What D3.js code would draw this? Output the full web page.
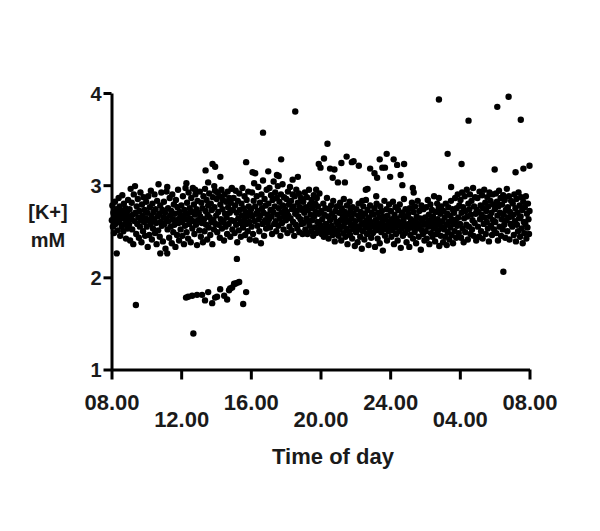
<!DOCTYPE html>
<html><head><meta charset="utf-8">
<script src="https://cdn.jsdelivr.net/npm/d3@7"></script>
<style>body{margin:0;background:#fff}</style>
</head><body>
<script>
// hours after 08.00, [K+] in mM
const tickHours = [0,4,8,12,16,20,24];
const tickLabels = ["08.00","12.00","16.00","20.00","24.00","04.00","08.00"];
const yTicks = [1,2,3,4];

const morning = [ // 08-12
[0.02,2.62],[0.05,2.78],[0.08,2.55],[0.11,2.70],[0.14,2.48],[0.17,2.66],[0.20,2.82],[0.23,2.58],[0.27,2.74],[0.31,2.63],[0.35,2.51],[0.38,2.69],[0.41,2.86],[0.44,2.60],[0.47,2.77],[0.50,2.45],[0.53,2.67],[0.56,2.72],[0.59,2.55],[0.62,2.89],[0.65,2.64],[0.68,2.50],[0.71,2.80],[0.74,2.68],[0.77,2.58],[0.80,2.75],[0.83,2.42],[0.86,2.62],[0.89,2.71],[0.92,2.53],[0.95,2.84],[0.98,2.66],
[1.01,2.57],[1.04,2.74],[1.07,2.40],[1.10,2.96],[1.13,2.63],[1.16,2.81],[1.19,2.52],[1.22,2.68],[1.25,2.36],[1.28,2.90],[1.31,2.61],[1.38,2.70],[1.42,2.47],[1.45,2.77],[1.48,2.58],[1.51,2.85],[1.54,2.65],[1.57,2.43],[1.60,2.72],[1.63,2.55],[1.66,2.92],[1.69,2.62],[1.72,2.38],[1.75,2.79],[1.78,2.67],[1.81,2.50],[1.84,2.87],[1.87,2.60],[1.90,2.73],[1.93,2.45],[1.96,2.64],[1.99,2.82],
[2.02,2.55],[2.05,2.70],[2.08,2.33],[2.11,2.88],[2.14,2.62],[2.17,2.46],[2.20,2.76],[2.23,2.58],[2.26,2.94],[2.29,2.67],[2.32,2.41],[2.35,2.80],[2.38,2.53],[2.41,2.71],[2.44,2.63],[2.47,2.90],[2.50,2.48],[2.53,2.74],[2.56,2.59],[2.59,2.36],[2.62,2.83],[2.65,2.66],[2.68,2.51],[2.74,2.69],[2.77,2.44],[2.80,2.78],[2.83,2.60],[2.86,2.92],[2.89,2.56],[2.92,2.73],[2.95,2.39],[2.98,2.65],
[3.01,2.82],[3.04,2.58],[3.07,2.70],[3.10,2.31],[3.13,2.64],[3.16,2.93],[3.22,2.52],[3.25,2.75],[3.28,2.61],[3.31,2.43],[3.34,2.86],[3.37,2.67],[3.40,2.55],[3.43,2.72],[3.46,2.37],[3.49,2.90],[3.52,2.63],[3.55,2.49],[3.58,2.79],[3.61,2.57],[3.64,2.69],[3.67,2.33],[3.70,2.84],[3.73,2.62],[3.76,2.46],[3.79,2.76],[3.82,2.95],[3.85,2.59],[3.88,2.40],[3.91,2.71],[3.94,2.65],[3.97,2.52]
];
const afternoon = [ // 12-16
[4.01,2.78],[4.04,2.60],[4.07,2.45],[4.10,2.88],[4.13,2.67],[4.16,2.36],[4.19,2.73],[4.22,2.56],[4.25,2.97],[4.28,2.63],[4.31,2.49],[4.34,2.81],[4.37,2.69],[4.40,2.42],[4.43,2.92],[4.46,2.58],[4.49,2.75],[4.52,2.64],[4.55,2.38],[4.58,2.86],[4.61,2.71],[4.64,2.53],[4.67,2.97],[4.70,2.61],[4.73,2.79],[4.76,2.47],[4.79,2.68],[4.82,2.90],[4.85,2.57],[4.88,2.74],[4.91,2.35],[4.94,2.83],[4.97,2.62],
[5.01,2.70],[5.04,2.51],[5.07,2.93],[5.10,2.66],[5.13,2.44],[5.16,2.81],[5.19,2.59],[5.22,2.75],[5.25,2.38],[5.28,2.88],[5.31,2.63],[5.34,2.50],[5.37,2.96],[5.40,2.72],[5.43,2.57],[5.46,2.84],[5.49,2.41],[5.52,2.68],[5.55,2.78],[5.58,2.54],[5.61,2.91],[5.64,2.65],[5.67,2.46],[5.70,2.80],[5.73,2.60],[5.76,2.73],[5.79,2.36],[5.82,2.87],[5.85,2.62],[5.88,2.52],[5.91,2.76],[5.94,2.94],[5.97,2.58],
[6.01,2.67],[6.04,2.85],[6.07,2.49],[6.10,2.92],[6.13,2.71],[6.16,2.57],[6.19,2.88],[6.22,2.43],[6.25,2.79],[6.28,2.63],[6.31,2.95],[6.34,2.53],[6.37,2.74],[6.40,2.84],[6.43,2.60],[6.46,2.40],[6.49,2.90],[6.52,2.69],[6.55,2.55],[6.58,2.82],[6.61,2.65],[6.64,2.47],[6.67,2.93],[6.70,2.76],[6.73,2.58],[6.76,2.86],[6.79,2.70],[6.82,2.44],[6.85,2.81],[6.88,2.62],[6.91,2.97],[6.94,2.52],[6.97,2.73],
[7.01,2.86],[7.04,2.61],[7.07,2.48],[7.10,2.78],[7.13,2.94],[7.16,2.57],[7.19,2.70],[7.22,2.38],[7.25,2.83],[7.28,2.64],[7.31,2.51],[7.34,2.91],[7.37,2.73],[7.40,2.59],[7.43,2.44],[7.46,2.80],[7.49,2.67],[7.52,2.97],[7.55,2.54],[7.58,2.75],[7.61,2.62],[7.64,2.88],[7.67,2.46],[7.70,2.71],[7.73,2.58],[7.76,2.84],[7.79,2.66],[7.82,2.50],[7.85,2.93],[7.88,2.77],[7.91,2.60],[7.94,2.41],[7.97,2.69]
];
const evening = [ // 16-20
[8.01,2.74],[8.04,2.55],[8.07,2.92],[8.10,2.66],[8.13,2.47],[8.16,2.83],[8.19,3.02],[8.22,2.61],[8.25,2.77],[8.28,2.40],[8.31,2.69],[8.34,2.88],[8.37,2.56],[8.40,2.72],[8.43,2.98],[8.46,2.63],[8.49,2.50],[8.52,2.81],[8.55,2.67],[8.58,2.37],[8.61,2.90],[8.64,2.75],[8.67,2.58],[8.70,3.05],[8.73,2.70],[8.76,2.45],[8.79,2.85],[8.82,2.62],[8.85,2.78],[8.88,2.53],[8.91,2.95],[8.94,2.68],[8.97,2.59],
[9.01,2.80],[9.04,2.63],[9.07,2.97],[9.10,2.54],[9.13,2.73],[9.16,2.89],[9.19,2.66],[9.22,2.47],[9.25,2.84],[9.28,2.71],[9.31,3.04],[9.34,2.58],[9.37,2.77],[9.40,2.92],[9.43,2.61],[9.46,2.50],[9.49,2.86],[9.52,2.68],[9.55,2.99],[9.58,2.56],[9.61,2.75],[9.64,2.82],[9.67,2.64],[9.70,2.45],[9.73,2.90],[9.76,2.70],[9.79,2.59],[9.82,3.01],[9.85,2.78],[9.88,2.52],[9.91,2.87],[9.94,2.66],[9.97,2.74],
[10.01,2.62],[10.04,2.85],[10.07,2.71],[10.10,2.48],[10.13,2.93],[10.16,2.67],[10.19,2.79],[10.22,2.55],[10.25,2.98],[10.28,2.64],[10.31,2.83],[10.34,2.51],[10.37,2.74],[10.40,2.90],[10.43,2.60],[10.46,2.77],[10.49,2.45],[10.52,2.88],[10.55,2.69],[10.58,2.57],[10.61,2.95],[10.64,2.72],[10.67,2.53],[10.70,2.81],[10.73,2.66],[10.76,2.91],[10.79,2.49],[10.82,2.76],[10.85,2.63],[10.88,2.86],[10.91,2.58],[10.94,2.73],[10.97,2.47],
[11.01,2.82],[11.04,2.59],[11.07,2.70],[11.10,2.92],[11.13,2.52],[11.16,2.76],[11.19,2.64],[11.22,2.87],[11.25,2.47],[11.28,2.73],[11.31,2.61],[11.34,2.95],[11.37,2.56],[11.40,2.79],[11.43,2.68],[11.46,2.50],[11.49,2.84],[11.52,2.62],[11.55,2.75],[11.58,2.45],[11.61,2.89],[11.64,2.66],[11.67,2.54],[11.70,2.80],[11.73,2.71],[11.76,2.48],[11.79,2.86],[11.82,2.60],[11.85,2.77],[11.88,2.52],[11.91,2.69],[11.94,2.91],[11.97,2.57]
];
const lateNight = [ // 20-24
[12.01,2.50],[12.04,2.72],[12.07,2.47],[12.10,2.63],[12.13,2.53],[12.16,2.80],[12.19,2.44],[12.22,2.68],[12.25,2.51],[12.28,2.75],[12.31,2.58],[12.34,2.48],[12.37,2.86],[12.40,2.55],[12.43,2.66],[12.46,2.42],[12.49,2.74],[12.52,2.52],[12.55,2.62],[12.58,2.49],[12.61,2.78],[12.64,2.56],[12.67,2.69],[12.70,2.46],[12.73,2.83],[12.76,2.53],[12.79,2.65],[12.82,2.39],[12.85,2.72],[12.88,2.50],[12.91,2.60],[12.94,2.77],[12.97,2.47],
[13.01,2.57],[13.04,2.45],[13.07,2.70],[13.10,2.52],[13.13,2.81],[13.16,2.62],[13.19,2.40],[13.22,2.75],[13.25,2.55],[13.28,2.66],[13.31,2.48],[13.34,2.85],[13.37,2.59],[13.40,2.71],[13.43,2.44],[13.46,2.63],[13.49,2.53],[13.52,2.78],[13.55,2.36],[13.58,2.68],[13.61,2.50],[13.64,2.60],[13.67,2.82],[13.70,2.46],[13.73,2.73],[13.76,2.56],[13.79,2.64],[13.82,2.42],[13.85,2.76],[13.88,2.52],[13.91,2.69],[13.94,2.58],[13.97,2.34],
[14.01,2.61],[14.04,2.49],[14.07,2.74],[14.10,2.55],[14.13,2.38],[14.16,2.67],[14.19,2.80],[14.22,2.52],[14.25,2.63],[14.28,2.44],[14.31,2.71],[14.34,2.57],[14.37,2.31],[14.40,2.66],[14.43,2.50],[14.46,2.77],[14.49,2.59],[14.52,2.41],[14.55,2.69],[14.58,2.54],[14.61,2.84],[14.64,2.62],[14.67,2.47],[14.70,2.73],[14.73,2.56],[14.76,2.35],[14.79,2.65],[14.82,2.51],[14.85,2.78],[14.88,2.60],[14.91,2.43],[14.94,2.70],[14.97,2.55],
[15.01,2.48],[15.04,2.68],[15.07,2.56],[15.10,2.75],[15.13,2.33],[15.16,2.62],[15.19,2.51],[15.22,2.80],[15.25,2.59],[15.28,2.42],[15.31,2.70],[15.34,2.54],[15.37,2.65],[15.40,2.37],[15.43,2.77],[15.46,2.57],[15.49,2.49],[15.52,2.72],[15.55,2.60],[15.58,2.29],[15.61,2.66],[15.64,2.52],[15.67,2.83],[15.70,2.45],[15.73,2.63],[15.76,2.55],[15.79,2.74],[15.82,2.40],[15.85,2.67],[15.88,2.58],[15.91,2.50],[15.94,2.79],[15.97,2.61]
];
const smallHours = [ // 00-04
[16.01,2.55],[16.04,2.72],[16.07,2.44],[16.10,2.63],[16.13,2.51],[16.16,2.82],[16.19,2.59],[16.22,2.36],[16.25,2.68],[16.28,2.54],[16.31,2.76],[16.34,2.47],[16.37,2.64],[16.40,2.57],[16.43,2.40],[16.46,2.73],[16.49,2.60],[16.52,2.50],[16.55,2.79],[16.58,2.56],[16.61,2.32],[16.64,2.67],[16.67,2.53],[16.70,2.70],[16.73,2.45],[16.76,2.62],[16.79,2.85],[16.82,2.58],[16.85,2.48],[16.88,2.74],[16.91,2.55],[16.94,2.38],[16.97,2.66],
[17.01,2.52],[17.04,2.69],[17.07,2.58],[17.10,2.33],[17.13,2.75],[17.16,2.46],[17.19,2.63],[17.22,2.54],[17.25,2.81],[17.28,2.60],[17.31,2.42],[17.34,2.71],[17.37,2.56],[17.40,2.49],[17.43,2.77],[17.46,2.61],[17.49,2.37],[17.52,2.66],[17.55,2.53],[17.58,2.83],[17.61,2.58],[17.64,2.44],[17.67,2.72],[17.70,2.55],[17.73,2.64],[17.76,2.30],[17.79,2.78],[17.82,2.51],[17.85,2.62],[17.88,2.47],[17.91,2.74],[17.94,2.57],[17.97,2.40],
[18.01,2.65],[18.04,2.50],[18.07,2.76],[18.10,2.42],[18.13,2.59],[18.16,2.84],[18.19,2.55],[18.22,2.68],[18.25,2.36],[18.28,2.62],[18.31,2.79],[18.34,2.48],[18.37,2.57],[18.40,2.73],[18.43,2.44],[18.46,2.66],[18.49,2.53],[18.52,2.88],[18.55,2.60],[18.58,2.39],[18.61,2.71],[18.64,2.56],[18.67,2.47],[18.70,2.80],[18.73,2.63],[18.76,2.51],[18.79,2.75],[18.82,2.34],[18.85,2.58],[18.88,2.69],[18.91,2.45],[18.94,2.77],[18.97,2.54],
[19.01,2.61],[19.04,2.38],[19.07,2.72],[19.10,2.52],[19.13,2.65],[19.16,2.44],[19.19,2.80],[19.22,2.57],[19.25,2.35],[19.28,2.69],[19.31,2.49],[19.34,2.76],[19.37,2.60],[19.40,2.41],[19.43,2.67],[19.46,2.54],[19.49,2.83],[19.52,2.46],[19.55,2.63],[19.58,2.74],[19.61,2.37],[19.64,2.58],[19.67,2.70],[19.70,2.50],[19.73,2.86],[19.76,2.62],[19.79,2.43],[19.82,2.75],[19.85,2.56],[19.88,2.90],[19.91,2.65],[19.94,2.48],[19.97,2.78]
];
const earlyMorning = [ // 04-08
[20.01,2.58],[20.04,2.84],[20.07,2.43],[20.10,2.70],[20.13,2.92],[20.16,2.53],[20.19,2.76],[20.22,2.38],[20.25,2.64],[20.28,2.88],[20.31,2.49],[20.34,2.72],[20.37,2.57],[20.40,2.95],[20.43,2.66],[20.46,2.41],[20.49,2.80],[20.52,2.55],[20.55,2.74],[20.58,2.90],[20.61,2.47],[20.64,2.68],[20.67,2.83],[20.70,2.52],[20.73,2.62],[20.76,2.97],[20.79,2.45],[20.82,2.77],[20.85,2.59],[20.88,2.87],[20.91,2.69],[20.94,2.40],[20.97,2.73],
[21.01,2.86],[21.04,2.55],[21.07,2.71],[21.10,2.44],[21.13,2.93],[21.16,2.63],[21.19,2.78],[21.22,2.50],[21.25,2.68],[21.28,2.89],[21.31,2.42],[21.34,2.75],[21.37,2.58],[21.40,2.95],[21.43,2.65],[21.46,2.81],[21.49,2.47],[21.52,2.72],[21.55,2.60],[21.58,2.87],[21.61,2.53],[21.64,2.77],[21.67,2.39],[21.70,2.92],[21.73,2.66],[21.76,2.83],[21.79,2.56],[21.82,2.70],[21.85,2.46],[21.88,2.90],[21.91,2.62],[21.94,2.79],[21.97,2.52],
[22.01,2.74],[22.04,2.60],[22.07,2.91],[22.10,2.48],[22.13,2.82],[22.16,2.67],[22.19,2.40],[22.22,2.77],[22.25,2.94],[22.28,2.55],[22.31,2.70],[22.34,2.86],[22.37,2.45],[22.40,2.63],[22.43,2.79],[22.46,2.52],[22.49,2.89],[22.52,2.68],[22.55,2.57],[22.58,2.84],[22.61,2.43],[22.64,2.73],[22.67,2.62],[22.70,2.96],[22.73,2.50],[22.76,2.76],[22.79,2.65],[22.82,2.88],[22.85,2.41],[22.88,2.71],[22.91,2.58],[22.94,2.83],[22.97,2.66],
[23.01,2.55],[23.04,2.80],[23.07,2.68],[23.10,2.46],[23.13,2.90],[23.16,2.61],[23.19,2.75],[23.22,2.39],[23.25,2.85],[23.28,2.57],[23.31,2.70],[23.34,2.50],[23.37,2.92],[23.40,2.64],[23.43,2.78],[23.46,2.44],[23.49,2.66],[23.52,2.87],[23.55,2.53],[23.58,2.73],[23.61,2.37],[23.64,2.82],[23.67,2.60],[23.70,2.48],[23.73,2.76],[23.76,2.58],[23.79,2.88],[23.82,2.42],[23.85,2.69],[23.88,2.54],[23.91,2.80],[23.94,2.63],[23.97,2.47],[24.00,2.72]
];
const lowRun = [
[4.28,1.78],[4.40,1.79],[4.63,1.80],[4.91,1.81],[5.20,1.81],[5.37,1.75],[5.55,1.84],[5.78,1.72],[5.95,1.78],[6.06,1.79],[6.24,1.87],[6.47,1.80],[6.64,1.76],[6.75,1.86],[6.81,1.88],[6.93,1.89],[7.04,1.93],[7.10,1.93],[7.21,1.94],[7.33,1.95],[7.56,1.71],[7.73,1.84]
];
const outliers = [
[0.30,2.26],[1.40,1.70],[4.70,1.39],[2.80,2.26],[3.20,2.26],[7.20,2.20],
[1.35,2.99],[2.70,3.01],[3.20,2.98],[4.30,3.02],[4.80,2.95],[5.40,3.16],[5.80,3.23],[5.95,3.20],[6.25,3.09],[5.55,3.03],[5.90,2.99],[6.90,2.96],
[7.73,3.25],[8.10,3.14],[8.25,3.13],[8.70,3.57],[9.00,3.15],[9.50,3.11],[9.60,3.10],[9.74,3.28],[10.40,3.06],[10.55,3.80],[10.70,3.09],[11.75,2.95],
[11.90,3.23],[12.00,3.19],[12.20,3.29],[12.40,3.45],[12.55,3.18],[12.70,3.08],[12.80,3.17],[13.00,3.03],[13.20,3.24],[13.40,3.03],[13.50,3.31],[13.80,3.25],[13.90,3.26],[14.20,3.21],[14.40,2.83],[14.60,2.95],[14.70,2.96],[14.85,3.18],[15.10,3.13],[15.20,2.88],[15.25,3.08],[15.40,3.28],[15.55,3.19],[15.70,3.19],[15.80,3.34],
[16.00,3.09],[16.20,3.28],[16.40,3.22],[16.60,3.11],[16.70,3.00],[16.80,3.23],[17.30,2.97],[17.35,2.92],[18.80,2.86],[18.80,3.93],[19.30,3.34],[19.50,2.98],
[20.10,3.23],[20.50,3.70],[22.00,3.17],[22.15,3.85],[22.50,2.06],[22.80,3.96],[23.20,3.14],[23.50,3.71],[23.65,3.18],[24.00,3.21]
];

const data = [].concat(morning, afternoon, evening, lateNight, smallHours, earlyMorning, lowRun, outliers);

const W = 600, H = 531;
const svg = d3.select("body").append("svg").attr("width", W).attr("height", H);
const font = "'Liberation Sans', Arial, Helvetica, sans-serif";
const ink = "#1a1a1a";

const x = d3.scaleLinear().domain([0, 24]).range([111.5, 529.5]);
const y = d3.scaleLinear().domain([1, 4]).range([369.5, 93]);

svg.append("g").selectAll("circle").data(data).join("circle")
  .attr("cx", d => x(d[0])).attr("cy", d => y(d[1])).attr("r", 3.2).attr("fill", "#000");

const xAxis = svg.append("g").attr("transform", `translate(0,${y(1)})`)
  .call(d3.axisBottom(x).tickValues(tickHours).tickSize(10).tickSizeOuter(0)
    .tickFormat((d, i) => tickLabels[i]));
xAxis.select(".domain").attr("stroke", "#000").attr("stroke-width", 3);
xAxis.selectAll(".tick line").attr("stroke", "#000").attr("stroke-width", 3);
xAxis.selectAll(".tick text")
  .attr("y", (d, i) => i % 2 ? 57 : 40).attr("dy", null)
  .attr("font-family", font).attr("font-weight", "bold").attr("font-size", 22).attr("fill", ink);

const yAxis = svg.append("g").attr("transform", `translate(${x(0)},0)`)
  .call(d3.axisLeft(y).tickValues(yTicks).tickSize(8).tickSizeOuter(0).tickFormat(d3.format("d")));
yAxis.select(".domain").attr("stroke", "#000").attr("stroke-width", 3);
yAxis.selectAll(".tick line").attr("stroke", "#000").attr("stroke-width", 3);
yAxis.selectAll(".tick text").attr("x", -10).attr("dy", "0.36em")
  .attr("font-family", font).attr("font-weight", "bold").attr("font-size", 20).attr("fill", ink);

svg.append("text").attr("x", 333).attr("y", 464).attr("text-anchor", "middle")
  .attr("font-family", font).attr("font-weight", "bold").attr("font-size", 22).attr("fill", ink)
  .text("Time of day");
svg.append("text").attr("x", 48).attr("y", 219).attr("text-anchor", "middle")
  .attr("font-family", font).attr("font-weight", "bold").attr("font-size", 20).attr("fill", ink)
  .text("[K+]");
svg.append("text").attr("x", 48).attr("y", 247).attr("text-anchor", "middle")
  .attr("font-family", font).attr("font-weight", "bold").attr("font-size", 20).attr("fill", ink)
  .text("mM");
</script>
</body></html>
